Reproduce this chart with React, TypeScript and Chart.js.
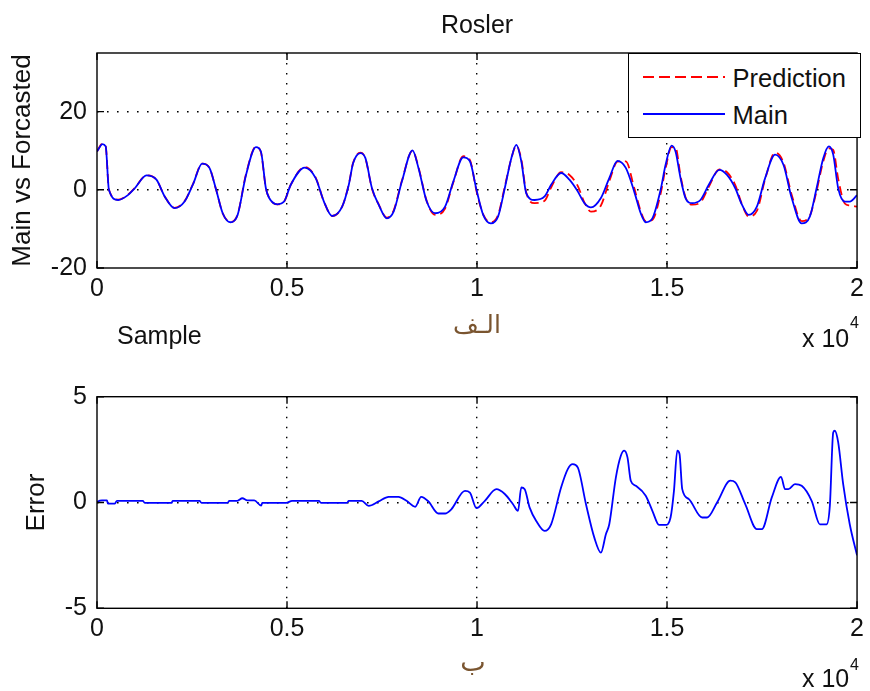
import React, { useEffect, useRef } from "react";
import { Chart, registerables } from "chart.js";

Chart.register(...registerables);

// ---------- data ----------
const xTickValues = [0, 5000, 10000, 15000, 20000];
const topYTickValues = [-20, 0, 20];
const errYTickValues = [-5, 0, 5];

const sampleX = [
  0, 34, 139, 228, 314, 558, 820, 995, 1302, 1564,
  1781, 2043, 2305, 2522, 2768, 2959, 3135, 3308, 3509, 3701,
  3921, 4183, 4313, 4444, 4531, 4748, 4924, 5099, 5466, 5754,
  5971, 6189, 6451, 6626, 6739, 6932, 7063, 7236, 7412, 7629,
  7805, 8022, 8302, 8459, 8677, 8897, 9159, 9376, 9638, 9813,
  9986, 10162, 10363, 10555, 10730, 10903, 11034, 11165, 11296, 11516,
  11778, 11950, 12212, 12432, 12650, 12825, 12998, 13260, 13480, 13697,
  13915, 14135, 14308, 14439, 14614, 14831, 14962, 15120, 15224, 15355,
  15486, 15662, 15879, 16099, 16377, 16578, 16796, 16971, 17147, 17364,
  17581, 17843, 18063, 18281, 18543, 18760, 18935, 19111, 19258, 19373,
  19504, 19677, 19808, 20000,
];

const mainValues = [
  9.8, 10.3, 11.7, 11.1, 0, -2.6, -1.3, 0.4, 3.7, 2.6,
  -1.7, -4.7, -3.0, 1.3, 6.7, 5.6, 0, -6.0, -8.3, -6.4,
  3.8, 10.9, 9.8, 0.4, -2.1, -3.7, -3.0, 1.3, 5.7, 3.0,
  -3.0, -6.7, -4.3, 1.3, 6.8, 9.4, 8.1, 0.4, -3.8, -7.3,
  -5.6, 2.1, 10.1, 5.6, -3.0, -6.0, -4.3, 2.1, 8.3, 7.3,
  0, -6.4, -8.6, -6.8, 0.4, 8.1, 11.5, 7.3, -0.9, -2.6,
  -1.7, 1.3, 4.3, 2.6, -0.4, -3.4, -4.5, -2.1, 3.0, 7.4,
  5.6, -0.4, -6.0, -8.3, -7.3, 0, 6.4, 11.3, 9.8, 3.0,
  -2.1, -3.4, -2.6, 1.3, 5.1, 3.8, 0.4, -3.8, -6.4, -4.3,
  3.0, 9.0, 6.4, -2.1, -8.6, -6.8, 0.4, 8.1, 11.1, 9.0,
  0.4, -3.0, -3.0, -1.4,
];

const predictionValues = [
  9.8, 10.4, 11.8, 11.2, 0, -2.5, -1.2, 0.5, 3.7, 2.6,
  -1.7, -4.6, -2.9, 1.4, 6.7, 5.6, 0, -6.0, -8.2, -6.3,
  4.0, 11.0, 9.6, 0.4, -2.1, -3.7, -3.0, 1.3, 5.8, 3.1,
  -3.0, -6.7, -4.3, 1.4, 6.9, 9.5, 8.0, 0.3, -3.7, -7.1,
  -5.3, 2.3, 10.0, 5.8, -2.9, -6.4, -4.8, 1.9, 8.6, 7.6,
  -0.3, -6.3, -8.3, -6.4, 0.8, 8.0, 11.3, 7.8, -0.7, -3.4,
  -2.8, 0.6, 4.5, 3.8, 1.0, -3.2, -5.6, -4.0, 2.2, 7.2,
  7.3, 0.5, -5.5, -8.0, -7.7, -1.0, 5.5, 10.9, 10.8, 3.6,
  -1.9, -3.8, -3.2, 0.8, 5.2, 4.5, 1.2, -3.7, -6.8, -5.4,
  2.7, 9.5, 7.0, -1.3, -8.0, -6.6, -0.3, 7.3, 10.6, 10.2,
  2.8, -3.5, -4.0, -4.3,
];

const errorX = [
  0, 26, 131, 262, 288, 471, 524, 1205, 1257, 1964,
  1990, 2698, 2750, 3431, 3483, 3693, 3824, 3955, 4138, 4321,
  4348, 4976, 5133, 5840, 5893, 6574, 6626, 6966, 7150, 7412,
  7674, 7936, 8145, 8373, 8530, 8721, 8983, 9159, 9324, 9683,
  9813, 9986, 10206, 10510, 10730, 10947, 11078, 11165, 11254, 11385,
  11558, 11778, 11950, 12212, 12388, 12519, 12650, 12867, 13087, 13260,
  13391, 13480, 13653, 13784, 13873, 13959, 14046, 14177, 14439, 14614,
  14790, 14962, 15093, 15182, 15269, 15329, 15400, 15575, 15924, 16055,
  16317, 16665, 16796, 17058, 17364, 17495, 17757, 18000, 18105, 18194,
  18367, 18543, 18805, 19022, 19198, 19284, 19373, 19415, 19504, 19635,
  19808, 20000,
];

const errorValues = [
  0, 0.05, 0.1, 0.1, -0.05, -0.05, 0.08, 0.08, -0.02, -0.02,
  0.08, 0.08, -0.02, -0.02, 0.08, 0.08, 0.2, 0.1, 0.1, -0.15,
  -0.02, -0.02, 0.08, 0.08, -0.02, -0.02, 0.08, 0.08, -0.16, 0.05,
  0.27, 0.27, 0.08, -0.2, 0.27, 0.05, -0.52, -0.52, -0.32, 0.55,
  0.47, -0.27, 0.08, 0.63, 0.4, -0.08, -0.4, 0.71, 0.63, -0.24,
  -0.87, -1.34, -1.03, 0.71, 1.58, 1.81, 1.66, -0.08, -1.66, -2.37,
  -1.5, -1.03, 1.18, 2.21, 2.45, 2.13, 1.03, 0.79, 0.32, -0.39,
  -1.06, -1.06, -0.71, 0.55, 2.45, 2.29, 0.63, 0.16, -0.71, -0.71,
  0, 1.03, 0.95, -0.08, -1.26, -1.26, 0.24, 1.21, 0.63, 0.63,
  0.87, 0.79, 0.08, -1.03, -1.03, -0.16, 3.31, 3.39, 2.84, 0.87,
  -1.03, -2.5,
];

// ---------- styling ----------
const FONT = "'Liberation Sans', Arial, Helvetica, sans-serif";
const ARABIC_FONT = "'DejaVu Sans', 'Noto Sans', sans-serif";
const TEXT = "#111111";

const framePlugin = {
  id: "matlabFrame",
  afterDatasetsDraw(chart: any) {
    const { ctx, chartArea: a, scales } = chart;
    ctx.save();
    ctx.strokeStyle = "#000";
    ctx.lineWidth = 1.4;
    ctx.strokeRect(a.left, a.top, a.right - a.left, a.bottom - a.top);
    const L = 7;
    ctx.beginPath();
    for (const t of scales.x.ticks) {
      const px = scales.x.getPixelForValue(t.value);
      ctx.moveTo(px, a.bottom);
      ctx.lineTo(px, a.bottom - L);
      ctx.moveTo(px, a.top);
      ctx.lineTo(px, a.top + L);
    }
    for (const t of scales.y.ticks) {
      const py = scales.y.getPixelForValue(t.value);
      ctx.moveTo(a.left, py);
      ctx.lineTo(a.left + L, py);
      ctx.moveTo(a.right, py);
      ctx.lineTo(a.right - L, py);
    }
    ctx.stroke();
    ctx.restore();
  },
};

function makeOptions(
  yMin: number,
  yMax: number,
  yTicks: number[],
  yTitle: string,
  titlePad: number,
  padding: any
) {
  const tickFont = { family: FONT, size: 25 };
  return {
    animation: false,
    responsive: false,
    maintainAspectRatio: false,
    layout: { padding },
    plugins: {
      legend: { display: false },
      tooltip: { enabled: false },
      title: { display: false },
    },
    scales: {
      x: {
        type: "linear",
        min: 0,
        max: 20000,
        afterBuildTicks: (s: any) => {
          s.ticks = xTickValues.map((v) => ({ value: v }));
        },
        afterFit: (s: any) => {
          s.height = 40;
        },
        ticks: {
          font: tickFont,
          color: TEXT,
          padding: 6,
          maxRotation: 0,
          autoSkip: false,
          callback: (v: any) => String(Number(v) / 10000),
        },
        grid: {
          drawTicks: false,
          lineWidth: 1.4,
          color: (c: any) =>
            c.tick && (c.tick.value === 0 || c.tick.value === 20000)
              ? "rgba(0,0,0,0)"
              : "#000",
        },
        border: { display: false, dash: [1.6, 8.4] },
      },
      y: {
        type: "linear",
        min: yMin,
        max: yMax,
        afterBuildTicks: (s: any) => {
          s.ticks = yTicks.map((v) => ({ value: v }));
        },
        afterFit: (s: any) => {
          s.width = 97;
        },
        ticks: {
          font: tickFont,
          color: TEXT,
          padding: 10,
          autoSkip: false,
        },
        title: {
          display: true,
          text: yTitle,
          font: { family: FONT, size: 26 },
          color: TEXT,
          padding: { top: titlePad, bottom: 0 },
        },
        grid: {
          drawTicks: false,
          lineWidth: 1.4,
          color: (c: any) =>
            c.tick && (c.tick.value === yMin || c.tick.value === yMax)
              ? "rgba(0,0,0,0)"
              : "#000",
        },
        border: { display: false, dash: [1.6, 8.4] },
      },
    },
  };
}

const abs = (s: React.CSSProperties): React.CSSProperties => ({
  position: "absolute",
  margin: 0,
  whiteSpace: "nowrap",
  ...s,
});

export default function App() {
  const topRef = useRef<HTMLCanvasElement | null>(null);
  const botRef = useRef<HTMLCanvasElement | null>(null);

  useEffect(() => {
    const top = new Chart(topRef.current as HTMLCanvasElement, {
      type: "line",
      data: {
        datasets: [
          {
            label: "Main",
            data: sampleX.map((x, i) => ({ x, y: mainValues[i] })),
            borderColor: "#0000ff",
            borderWidth: 1.8,
            pointRadius: 0,
            fill: false,
            cubicInterpolationMode: "monotone",
          },
          {
            label: "Prediction",
            data: sampleX.map((x, i) => ({ x, y: predictionValues[i] })),
            borderColor: "#ff0000",
            borderWidth: 1.8,
            borderDash: [9, 5],
            pointRadius: 0,
            fill: false,
            cubicInterpolationMode: "monotone",
          },
        ],
      },
      options: makeOptions(-20, 35, topYTickValues, "Main vs Forcasted", 7, {
        top: 53,
        left: 0,
        right: 9,
        bottom: 42,
      }) as any,
      plugins: [framePlugin],
    });

    const bot = new Chart(botRef.current as HTMLCanvasElement, {
      type: "line",
      data: {
        datasets: [
          {
            label: "Error",
            data: errorX.map((x, i) => ({ x, y: errorValues[i] })),
            borderColor: "#0000ff",
            borderWidth: 1.8,
            pointRadius: 0,
            fill: false,
            cubicInterpolationMode: "monotone",
          },
        ],
      },
      options: makeOptions(-5, 5, errYTickValues, "Error", 21, {
        top: 46.7,
        left: 0,
        right: 9,
        bottom: 42.7,
      }) as any,
      plugins: [framePlugin],
    });

    return () => {
      top.destroy();
      bot.destroy();
    };
  }, []);

  const txt = (size: number): React.CSSProperties => ({
    fontFamily: FONT,
    fontSize: size,
    lineHeight: `${size}px`,
    color: TEXT,
  });

  return (
    <div
      style={{
        position: "absolute",
        left: 0,
        top: 0,
        width: 870,
        height: 691,
        background: "#fff",
        overflow: "hidden",
      }}
    >
      <canvas
        ref={topRef}
        width={870}
        height={350}
        style={{ position: "absolute", left: 0, top: 0, width: 870, height: 350 }}
      />
      <canvas
        ref={botRef}
        width={870}
        height={341}
        style={{ position: "absolute", left: 0, top: 350, width: 870, height: 341 }}
      />

      {/* title */}
      <div style={abs({ ...txt(25), left: 379, top: 12, width: 196, textAlign: "center" })}>
        Rosler
      </div>

      {/* legend */}
      <div
        style={abs({
          left: 628,
          top: 53,
          width: 233,
          height: 85,
          boxSizing: "border-box",
          border: "1.4px solid #000",
          background: "#fff",
        })}
      >
        <svg
          width={233}
          height={85}
          style={{ position: "absolute", left: -1.4, top: -1.4 }}
        >
          <line x1={15} y1={24} x2={97} y2={24} stroke="#ff0000" strokeWidth={1.8} strokeDasharray="11 5" />
          <line x1={15} y1={61} x2={97} y2={61} stroke="#0000ff" strokeWidth={1.8} />
        </svg>
        <div style={abs({ ...txt(25.5), left: 103.6, top: 11.6 })}>Prediction</div>
        <div style={abs({ ...txt(25.5), left: 103.6, top: 48.6 })}>Main</div>
      </div>

      {/* top extra labels */}
      <div style={abs({ ...txt(25), left: 117, top: 323 })}>Sample</div>
      <div
        dir="rtl"
        style={abs({
          fontFamily: ARABIC_FONT,
          fontSize: 25,
          lineHeight: "25px",
          color: "#7a5530",
          left: 417,
          width: 120,
          top: 312,
          textAlign: "center",
        })}
      >
        الـف
      </div>
      <div style={abs({ ...txt(25), left: 802, top: 326 })}>x 10</div>
      <div style={abs({ ...txt(16), left: 850, top: 314.5 })}>4</div>

      {/* bottom extra labels */}
      <div
        dir="rtl"
        style={abs({
          fontFamily: ARABIC_FONT,
          fontSize: 27,
          lineHeight: "27px",
          color: "#7a5530",
          left: 413,
          width: 120,
          top: 648,
          textAlign: "center",
        })}
      >
        ب
      </div>
      <div style={abs({ ...txt(25), left: 802, top: 666 })}>x 10</div>
      <div style={abs({ ...txt(16), left: 850, top: 656.5 })}>4</div>
    </div>
  );
}
